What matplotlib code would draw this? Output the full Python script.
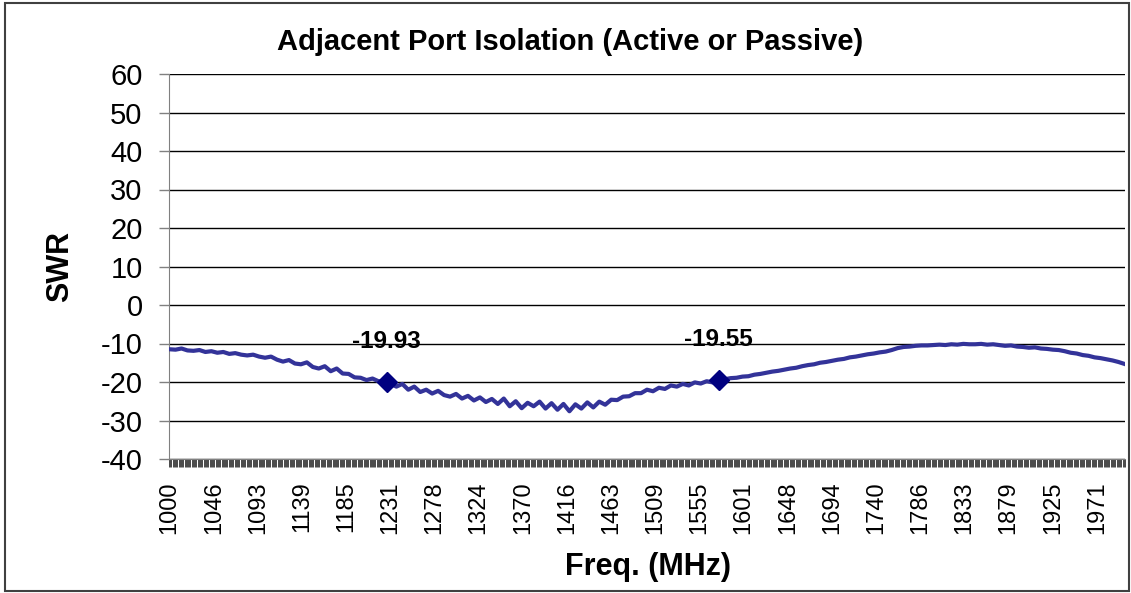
import numpy as np
import matplotlib
matplotlib.use("Agg")
import matplotlib.pyplot as plt
from matplotlib.patches import Rectangle

plt.rcParams['font.family'] = ['Liberation Sans', 'DejaVu Sans']

# ---------------- data ----------------
title = "Adjacent Port Isolation (Active or Passive)"
x_label = "Freq. (MHz)"
y_label = "SWR"

# isolation (dB) read every 6.25 MHz from 1000 to 2000 MHz
isolation_db = [
    -11.5, -11.6, -11.3, -11.8, -11.9, -11.7, -12.2, -12.0, -12.4, -12.2,
    -12.7, -12.5, -12.9, -13.1, -12.9, -13.4, -13.7, -13.4, -14.2, -14.7,
    -14.3, -15.2, -15.4, -14.9, -16.1, -16.5, -15.9, -17.2, -16.5, -17.8,
    -17.9, -18.8, -18.9, -19.5, -19.1, -19.8, -19.9, -20.4, -21.2, -20.5,
    -22.0, -21.2, -22.6, -22.0, -23.0, -22.3, -23.4, -23.8, -23.1, -24.3,
    -23.6, -24.8, -24.0, -25.2, -24.4, -25.7, -24.3, -26.3, -25.0, -26.8,
    -25.4, -26.3, -25.1, -26.9, -25.5, -27.2, -25.7, -27.6, -25.8, -26.9,
    -25.3, -26.6, -25.1, -25.9, -24.6, -24.7, -23.8, -23.7, -22.9, -22.9,
    -22.0, -22.4, -21.5, -21.8, -20.9, -21.2, -20.5, -20.9, -20.1, -20.4,
    -19.8, -20.1, -19.55, -19.3, -19.0, -18.9, -18.6, -18.5, -18.1, -17.9,
    -17.6, -17.3, -17.1, -16.8, -16.5, -16.3, -15.9, -15.6, -15.4, -15.0,
    -14.8, -14.5, -14.2, -14.0, -13.6, -13.4, -13.1, -12.8, -12.6, -12.3,
    -12.1, -11.7, -11.2, -10.9, -10.8, -10.6, -10.5, -10.5, -10.4, -10.3,
    -10.4, -10.2, -10.3, -10.1, -10.2, -10.2, -10.1, -10.3, -10.2, -10.4,
    -10.6, -10.5, -10.8, -10.9, -11.1, -11.0, -11.3, -11.4, -11.6, -11.7,
    -12.0, -12.4, -12.6, -13.0, -13.2, -13.6, -13.8, -14.1, -14.4, -14.8,
    -15.3,
]
freq_start, freq_stop = 1000.0, 2000.0
n_categories = 801

marker_freqs = [1227.5, 1575.0]
marker_values = [-19.93, -19.55]
marker_labels = ["-19.93", "-19.55"]

x_tick_labels = ["1000", "1046", "1093", "1139", "1185", "1231", "1278",
                 "1324", "1370", "1416", "1463", "1509", "1555", "1601",
                 "1648", "1694", "1740", "1786", "1833", "1879", "1925", "1971"]
label_every = 37
y_ticks = [-40, -30, -20, -10, 0, 10, 20, 30, 40, 50, 60]

# ---------------- figure ----------------
W, H = 1131, 593
fig = plt.figure(figsize=(W / 100, H / 100), dpi=100)
fig.patch.set_facecolor('white')

# outer chart border
fig.patches.append(Rectangle((5 / W, 2 / H), (1129 - 5) / W, (590 - 2) / H,
                             transform=fig.transFigure, fill=False,
                             edgecolor='#404040', linewidth=1.5))

left, right, top, bottom = 169, 1125, 74, 459
ax = fig.add_axes([left / W, 1 - bottom / H, (right - left) / W, (bottom - top) / H])

cats = np.linspace(freq_start, freq_stop, n_categories)
step = cats[1] - cats[0]
freq = np.linspace(freq_start, freq_stop, len(isolation_db))

ax.plot(freq, isolation_db, color='#333399', linewidth=3.0, solid_joinstyle='round', zorder=3)
ax.plot(marker_freqs, marker_values, linestyle='none', marker='D', markersize=10.5,
        color='#000080', zorder=4)
for f, v, t in zip(marker_freqs, marker_values, marker_labels):
    ax.annotate(t, (f, v), xytext=(0, 29), textcoords='offset points',
                ha='center', va='center', fontsize=17.5, fontweight='bold', color='black')

ax.set_xlim(freq_start - step / 2, freq_stop + step / 2)
ax.set_ylim(-40, 60)

# y axis
ax.set_yticks(y_ticks)
ax.set_yticklabels([str(t) for t in y_ticks], fontsize=21)
ax.yaxis.grid(True, color='black', linewidth=1.0)
ax.set_axisbelow(True)
ax.tick_params(axis='y', direction='out', length=7, width=1, color='#808080', pad=12)

# x axis: tick mark at every category boundary, labels every 37 categories
boundaries = np.append(cats - step / 2, cats[-1] + step / 2)
ax.set_xticks(boundaries)
ax.set_xticklabels([])
ax.tick_params(axis='x', which='major', direction='out', length=5.5, width=0.5, color='black')
ax.set_xticks(cats[::label_every], minor=True)
ax.set_xticklabels(x_tick_labels, minor=True, rotation=90, fontsize=17)
ax.tick_params(axis='x', which='minor', length=0, pad=16)

for s in ['top', 'right']:
    ax.spines[s].set_visible(False)
ax.spines['left'].set_color('#808080')
ax.spines['bottom'].set_color('#808080')

fig.text(570 / W, 1 - 42 / H, title, ha='center', va='center', fontsize=21, fontweight='bold')
fig.text(60 / W, 1 - 267 / H, y_label, ha='center', va='center', rotation=90,
         fontsize=22, fontweight='bold')
fig.text(648 / W, 1 - 567 / H, x_label, ha='center', va='center', fontsize=22, fontweight='bold')

fig.savefig('out.png', dpi=100)
